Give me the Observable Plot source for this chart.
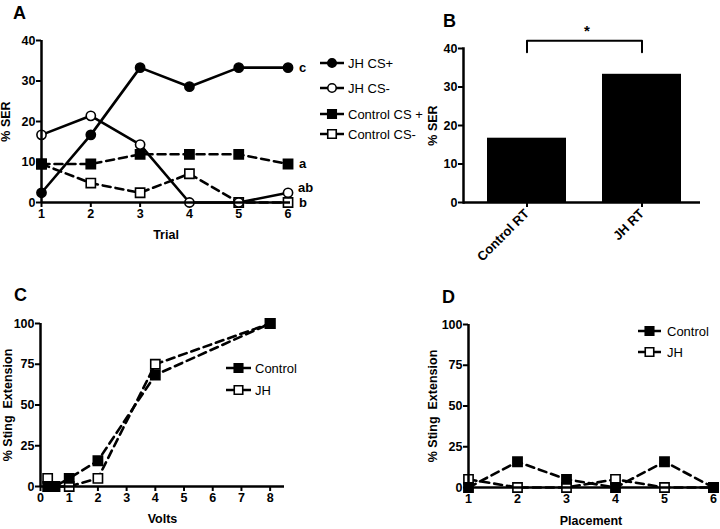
<!DOCTYPE html>
<html><head><meta charset="utf-8">
<script src="https://cdn.jsdelivr.net/npm/d3@7"></script>
<script src="https://cdn.jsdelivr.net/npm/@observablehq/plot@0.6"></script>
<style>
body{margin:0;background:#fff;}
#fig{position:relative;width:720px;height:529px;overflow:hidden;background:#fff;}
</style></head><body><div id="fig"></div><script>
// ---------- Panel A: % SER by trial ----------
const trials = [1, 2, 3, 4, 5, 6];
const jhCSplus = [2.4, 16.7, 33.3, 28.6, 33.3, 33.3];
const jhCSminus = [16.7, 21.4, 14.3, 0, 0, 2.4];
const ctrlCSplus = [9.5, 9.5, 11.9, 11.9, 11.9, 9.5];
const ctrlCSminus = [9.5, 4.8, 2.4, 7.1, 0, 0];
const seriesA = ["JH CS+", "JH CS-", "Control CS +", "Control CS-"];
const sigLetters = ["c", "ab", "a", "b"];
const yTicksA = [0, 10, 20, 30, 40];
// ---------- Panel B: % SER retention ----------
const groupsB = ["Control RT", "JH RT"];
const serB = [16.7, 33.3];
// ---------- Panel C: sting extension vs volts ----------
const volts = [0.25, 0.5, 1, 2, 4, 8];
const ctrlVolts = [0, 0, 5, 15.8, 68.4, 100];
const jhVolts = [5, 0, 0, 5, 75, 100];
const voltTicks = [0, 1, 2, 3, 4, 5, 6, 7, 8];
// ---------- Panel D: sting extension vs placement ----------
const placements = [1, 2, 3, 4, 5, 6];
const ctrlPlace = [0, 15.8, 5, 0, 15.8, 0];
const jhPlace = [5, 0, 0, 5, 0, 0];
const stingTicks = [0, 25, 50, 75, 100];
const seriesCD = ["Control", "JH"];

const FONT = '"Liberation Sans", Arial, Helvetica, sans-serif';
const fig = document.getElementById("fig");
function place(node, left, top) {
  node.style.position = "absolute";
  node.style.left = left + "px";
  node.style.top = top + "px";
  fig.appendChild(node);
}
const baseStyle = {fontFamily: FONT, fontSize: "12px", fontWeight: "bold", background: "transparent", overflow: "visible", color: "black"};

const styles = {
  "JH CS+": {dash: null, symbol: "circle", fill: "black", r: 4.6},
  "JH CS-": {dash: null, symbol: "circle", fill: "white", r: 4.6},
  "Control CS +": {dash: "8,5", symbol: "square", fill: "black", r: 5.2},
  "Control CS-": {dash: "8,5", symbol: "square", fill: "white", r: 5.2},
  "Control": {dash: "8,5", symbol: "square", fill: "black", r: 5.2},
  "JH": {dash: "8,5", symbol: "square", fill: "white", r: 5.2}
};

function seriesMarks(rows, name) {
  const s = styles[name];
  const d = rows.filter(r => r.series === name);
  return [
    Plot.line(d, {x: "x", y: "v", stroke: "black", strokeWidth: 2.6, strokeDasharray: s.dash}),
    Plot.dot(d, {x: "x", y: "v", symbol: s.symbol, r: s.r, fill: s.fill, stroke: "black", strokeWidth: 1.6})
  ];
}
const axOpts = {tickSize: 5, strokeWidth: 2, fontSize: 12, fontWeight: "bold", labelAnchor: "center", labelArrow: false};

// ---------- Panel A ----------
const rowsA = [];
const valsA = [jhCSplus, jhCSminus, ctrlCSplus, ctrlCSminus];
valsA.forEach((vals, s) =>
  vals.forEach((v, i) => rowsA.push({series: seriesA[s], x: trials[i], v})));
const lettersA = seriesA.map((name, s) => ({
  x: trials[trials.length - 1], v: valsA[s][valsA[s].length - 1], t: sigLetters[s]
}));
const plotA = Plot.plot({
  width: 300, height: 245, marginLeft: 41, marginRight: 10, marginTop: 40, marginBottom: 43,
  style: baseStyle,
  x: {domain: [1, 6.05]},
  y: {domain: [0, 40]},
  marks: [
    Plot.axisX(trials, {...axOpts, tickFormat: "d", tickPadding: 2, label: "Trial", labelOffset: 36, fontSize: 12.5}),
    Plot.axisY(yTicksA, {...axOpts, tickPadding: 1, label: "% SER", labelOffset: 40, fontSize: 12.5}),
    ...seriesMarks(rowsA, "Control CS-"),
    ...seriesMarks(rowsA, "Control CS +"),
    ...seriesMarks(rowsA, "JH CS-"),
    ...seriesMarks(rowsA, "JH CS+"),
    Plot.ruleY([0], {strokeWidth: 2.5}),
    Plot.ruleX([1], {strokeWidth: 2.5}),
    Plot.text(lettersA.filter(d => d.t !== "ab"), {x: "x", y: "v", text: "t", dx: 11, textAnchor: "start", fontSize: 13, fontWeight: "bold"}),
    Plot.text(lettersA.filter(d => d.t === "ab"), {x: "x", y: "v", text: "t", dx: 10, dy: -5, textAnchor: "start", fontSize: 13, fontWeight: "bold"})
  ]
});
place(plotA, 0, 0);

// ---------- Panel B ----------
const rowsB = groupsB.map((g, i) => ({g, v: serB[i]}));
const bracket = [
  {g: groupsB[0], v: 39}, {g: groupsB[0], v: 42}, {g: groupsB[1], v: 42}, {g: groupsB[1], v: 39}
];
const plotB = Plot.plot({
  width: 360, height: 270, marginLeft: 103, marginRight: 20, marginTop: 48, marginBottom: 68,
  style: baseStyle,
  x: {domain: groupsB, paddingInner: 0.31, paddingOuter: 0.18, align: 0.56},
  y: {domain: [0, 40]},
  marks: [
    Plot.barY(rowsB, {x: "g", y: "v", fill: "black"}),
    Plot.axisX({...axOpts, tickRotate: -45, tickPadding: 4, label: null, fontSize: 13}),
    Plot.axisY(yTicksA, {...axOpts, tickPadding: 1, label: "% SER", labelOffset: 35, fontSize: 12.5}),
    Plot.frame({anchor: "left", strokeWidth: 2.5}),
    Plot.ruleY([0], {strokeWidth: 2.5}),
    Plot.line(bracket, {x: "g", y: "v", stroke: "black", strokeWidth: 2}),
    Plot.text(["*"], {text: d => d, y: () => 44.4, frameAnchor: "middle", dx: 5, fontSize: 15, fontWeight: "bold"})
  ]
});
place(plotB, 360, 0);

// ---------- Panel C ----------
const rowsC = [];
[ctrlVolts, jhVolts].forEach((vals, s) =>
  vals.forEach((v, i) => rowsC.push({series: seriesCD[s], x: volts[i], v})));
const plotC = Plot.plot({
  width: 300, height: 259, marginLeft: 40, marginRight: 16, marginTop: 53, marginBottom: 43,
  style: baseStyle,
  x: {domain: [0, 8.5]},
  y: {domain: [0, 100]},
  marks: [
    Plot.axisX(voltTicks, {...axOpts, tickFormat: "d", tickPadding: 2, label: "Volts", labelOffset: 36, fontSize: 12.5}),
    Plot.axisY(stingTicks, {...axOpts, tickPadding: 1, label: "% Sting  Extension", labelOffset: 37, fontSize: 12.5}),
    ...seriesMarks(rowsC, "JH"),
    ...seriesMarks(rowsC, "Control"),
    Plot.ruleY([0], {strokeWidth: 2.5}),
    Plot.ruleX([0], {strokeWidth: 2.5})
  ]
});
place(plotC, 0, 270);

// ---------- Panel D ----------
const rowsD = [];
[ctrlPlace, jhPlace].forEach((vals, s) =>
  vals.forEach((v, i) => rowsD.push({series: seriesCD[s], x: placements[i], v})));
const plotD = Plot.plot({
  width: 360, height: 259, marginLeft: 108, marginRight: 7, marginTop: 54, marginBottom: 42,
  style: baseStyle,
  x: {domain: [1, 6]},
  y: {domain: [0, 100]},
  marks: [
    Plot.axisX(placements, {...axOpts, tickFormat: "d", tickPadding: 2, label: "Placement", labelOffset: 37, fontSize: 12.5}),
    Plot.axisY(stingTicks, {...axOpts, tickPadding: 1, label: "% Sting  Extension", labelOffset: 40, fontSize: 12.5}),
    ...seriesMarks(rowsD, "JH"),
    ...seriesMarks(rowsD, "Control"),
    Plot.ruleY([0], {strokeWidth: 2.5}),
    Plot.ruleX([1], {strokeWidth: 2.5})
  ]
});
place(plotD, 360, 270);

// ---------- Overlay: panel letters and legends ----------
const ov = d3.create("svg").attr("width", 720).attr("height", 529)
  .style("pointer-events", "none").style("font-family", FONT);
[["A", 13, 19], ["B", 443, 27], ["C", 14, 301], ["D", 442, 303]].forEach(([t, x, y]) =>
  ov.append("text").attr("x", x).attr("y", y).attr("font-size", 18).attr("font-weight", "bold").text(t));

function legend(items, x1, x2, tx, ys) {
  items.forEach((name, i) => {
    const s = styles[name], y = ys[i], cx = (x1 + x2) / 2;
    ov.append("line").attr("x1", x1).attr("x2", x2).attr("y1", y).attr("y2", y)
      .attr("stroke", "black").attr("stroke-width", 2.5);
    const sym = s.symbol === "circle" ? d3.symbolCircle : d3.symbolSquare;
    ov.append("path").attr("d", d3.symbol(sym, Math.PI * s.r * s.r * 0.85)())
      .attr("transform", `translate(${cx},${y})`)
      .attr("fill", s.fill).attr("stroke", "black").attr("stroke-width", 1.6);
    ov.append("text").attr("x", tx).attr("y", y).attr("dy", "0.35em")
      .attr("font-size", 13).text(name);
  });
}
legend(seriesA, 320, 344, 348, [63, 88, 114, 134]);
legend(seriesCD, 226, 251, 255, [368, 390]);
legend(seriesCD, 638, 661, 667, [331, 352]);
place(ov.node(), 0, 0);
</script></body></html>
